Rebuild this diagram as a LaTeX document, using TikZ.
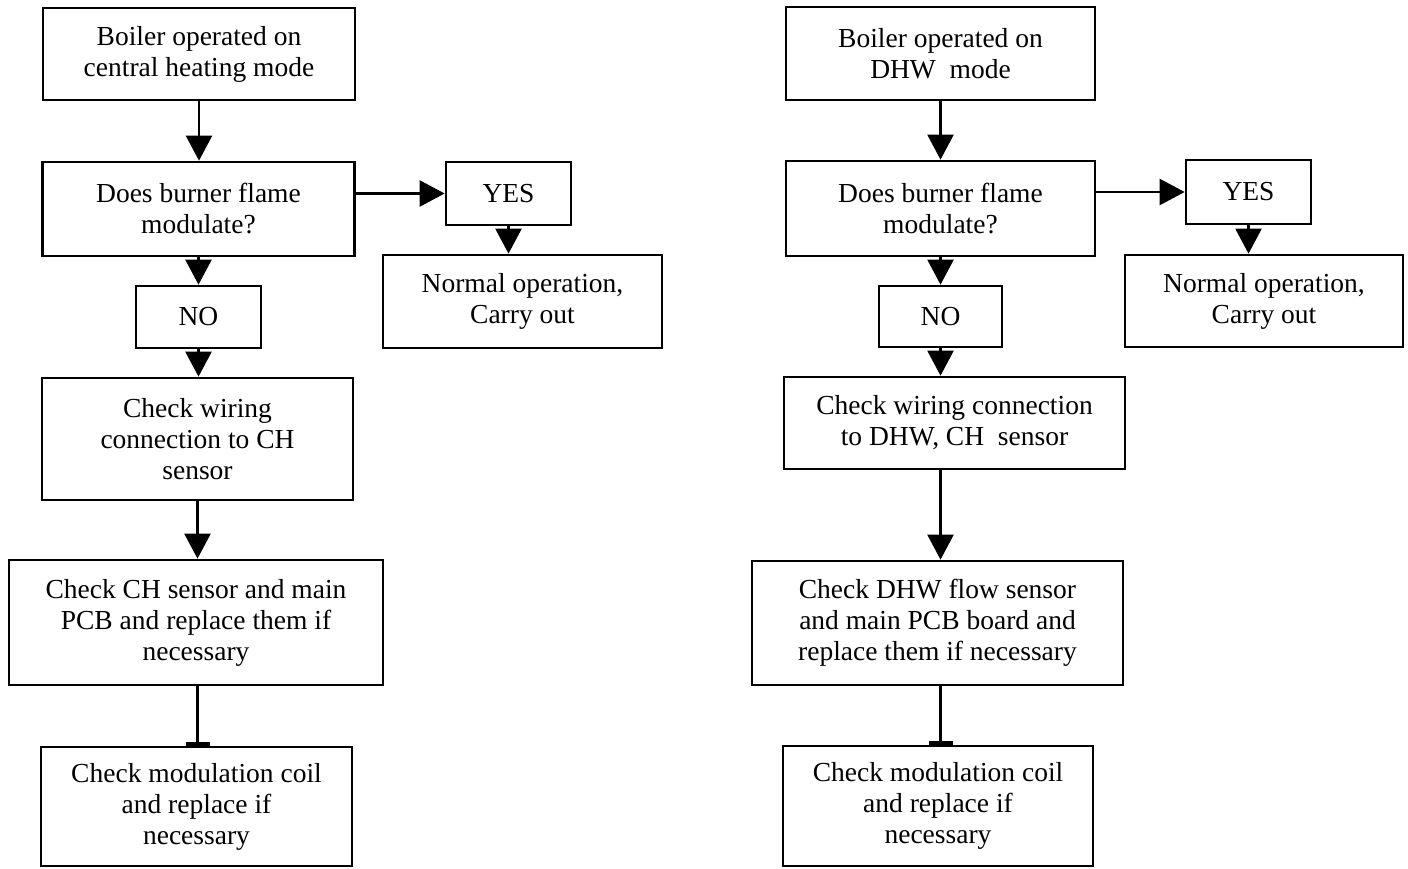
\documentclass[tikz,border=0pt]{standalone}
\usepackage{fontspec}
\setmainfont{Liberation Serif}
\usetikzlibrary{arrows.meta}
\tikzset{
  fbox/.style={draw, line width=2.7pt, align=center, inner sep=0pt, font=\fontsize{27.5}{31}\selectfont},
  conn/.style={line width=2.4pt, -{Triangle[length=25pt,width=26pt]}},
  bconn/.style={line width=2.4pt, -{Rectangle[length=4pt,width=24pt]}},
}
\begin{document}
\begin{tikzpicture}[x=1pt,y=-1pt]
\fill[white] (0,0) rectangle (1408,868);
\useasboundingbox (0,0) rectangle (1408,868);
% left column
\node[fbox, minimum width=312pt, minimum height=92pt] (b1L) at (199,54) {Boiler operated on\\central heating mode};
\node[fbox, minimum width=312pt, minimum height=94pt] (b2L) at (198.5,209) {Does burner flame\\modulate?};
\node[fbox, minimum width=125pt, minimum height=63pt] (yesL) at (508.5,193.5) {YES};
\node[fbox, minimum width=279pt, minimum height=93pt] (norL) at (522.5,301.5) {Normal operation,\\Carry out};
\node[fbox, minimum width=125pt, minimum height=62pt] (noL) at (198.5,317) {NO};
\node[fbox, minimum width=311pt, minimum height=122pt] (cwL) at (197.5,439) {Check wiring\\connection to CH\\sensor};
\node[fbox, minimum width=374pt, minimum height=125pt] (chL) at (196,622.5) {Check CH sensor and main\\PCB and replace them if\\necessary};
\node[fbox, minimum width=311pt, minimum height=119pt] (mcL) at (196.5,806.5) {Check modulation coil\\and replace if\\necessary};
% right column
\node[fbox, minimum width=309pt, minimum height=93pt] (b1R) at (940.5,53.5) {Boiler operated on\\DHW\ \ mode};
\node[fbox, minimum width=309pt, minimum height=95pt] (b2R) at (940.5,208.5) {Does burner flame\\modulate?};
\node[fbox, minimum width=125pt, minimum height=64pt] (yesR) at (1248.5,192) {YES};
\node[fbox, minimum width=278pt, minimum height=92pt] (norR) at (1264,301) {Normal operation,\\Carry out};
\node[fbox, minimum width=123pt, minimum height=61pt] (noR) at (940.5,316.5) {NO};
\node[fbox, minimum width=341pt, minimum height=92pt] (cwR) at (954.5,423) {Check wiring connection\\to DHW, CH\ \ sensor};
\node[fbox, minimum width=371pt, minimum height=124pt] (dhwR) at (937.5,623) {Check DHW flow sensor\\and main PCB board and\\replace them if necessary};
\node[fbox, minimum width=310pt, minimum height=120pt] (mcR) at (938,806) {Check modulation coil\\and replace if\\necessary};
% left connectors
\draw[conn] (b1L.south) -- (b1L.south |- b2L.north);
\draw[conn] (b2L.east |- yesL) -- (yesL.west);
\draw[conn] (yesL.south) -- (yesL.south |- norL.north);
\draw[conn] (b2L.south) -- (b2L.south |- noL.north);
\draw[conn] (noL.south) -- (noL.south |- cwL.north);
\draw[conn] (cwL.south) -- (cwL.south |- chL.north);
\draw[bconn] (cwL.south |- chL.south) -- (cwL.south |- mcL.north);
% right connectors
\draw[conn] (b1R.south) -- (b1R.south |- b2R.north);
\draw[conn] (b2R.east |- yesR) -- (yesR.west);
\draw[conn] (yesR.south) -- (yesR.south |- norR.north);
\draw[conn] (b2R.south) -- (b2R.south |- noR.north);
\draw[conn] (noR.south) -- (noR.south |- cwR.north);
\draw[conn] (cwR.south -| noR) -- (noR |- dhwR.north);
\draw[bconn] (dhwR.south -| noR) -- (noR |- mcR.north);
\end{tikzpicture}
\end{document}
